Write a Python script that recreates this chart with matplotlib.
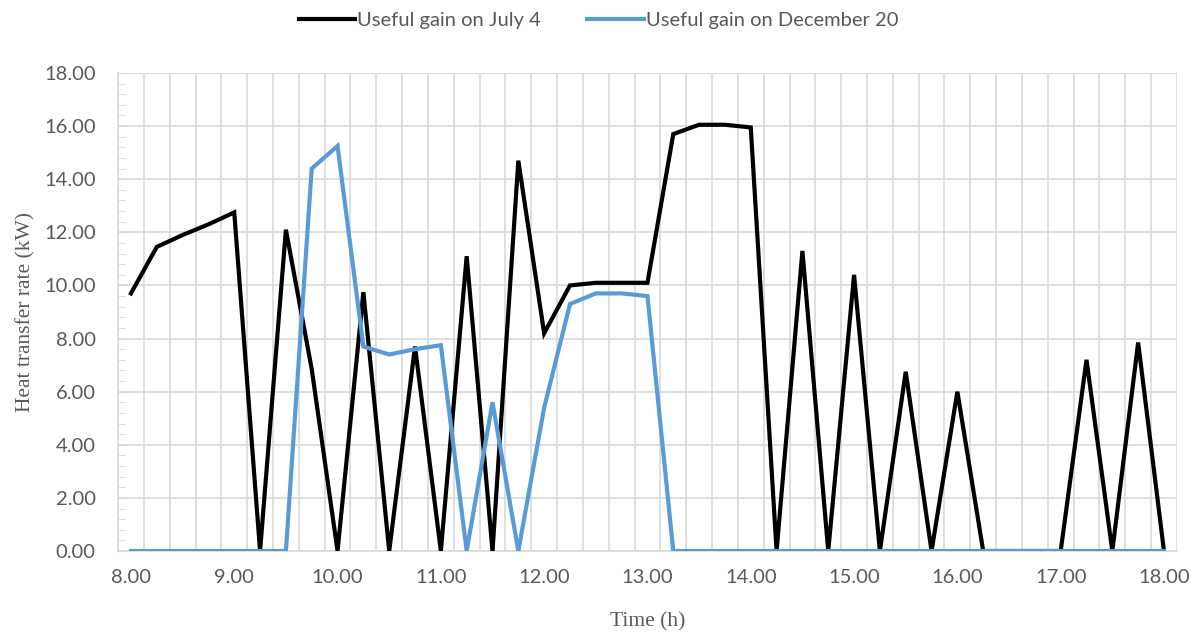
import numpy as np
import matplotlib
matplotlib.use("Agg")
import matplotlib.pyplot as plt
from matplotlib.ticker import MultipleLocator, FixedLocator

# time of day, every quarter hour from 8.00 to 18.00
hours = [8.00, 8.25, 8.50, 8.75, 9.00, 9.25, 9.50, 9.75, 10.00, 10.25,
         10.50, 10.75, 11.00, 11.25, 11.50, 11.75, 12.00, 12.25, 12.50, 12.75,
         13.00, 13.25, 13.50, 13.75, 14.00, 14.25, 14.50, 14.75, 15.00, 15.25,
         15.50, 15.75, 16.00, 16.25, 16.50, 16.75, 17.00, 17.25, 17.50, 17.75,
         18.00]

july_4 = [9.70, 11.45, 11.90, 12.30, 12.75, 0.00, 12.10, 6.85, 0.00, 9.75,
          0.00, 7.70, 0.00, 11.10, 0.00, 14.70, 8.20, 10.00, 10.10, 10.10,
          10.10, 15.70, 16.05, 16.05, 15.95, 0.00, 11.30, 0.00, 10.40, 0.00,
          6.75, 0.00, 6.00, 0.00, 0.00, 0.00, 0.00, 7.20, 0.00, 7.85,
          0.00]

december_20 = [0.00, 0.00, 0.00, 0.00, 0.00, 0.00, 0.00, 14.40, 15.25, 7.70,
               7.40, 7.60, 7.75, 0.00, 5.60, 0.00, 5.40, 9.30, 9.70, 9.70,
               9.60, 0.00, 0.00, 0.00, 0.00, 0.00, 0.00, 0.00, 0.00, 0.00,
               0.00, 0.00, 0.00, 0.00, 0.00, 0.00, 0.00, 0.00, 0.00, 0.00,
               0.00]

x_labels = ["8.00", "9.00", "10.00", "11.00", "12.00", "13.00",
            "14.00", "15.00", "16.00", "17.00", "18.00"]

grid_col = "#d9d9d9"
tick_col = "#595959"

fig = plt.figure(figsize=(11.97, 6.33), dpi=100)
ax = fig.add_axes([0.0986, 0.1295, 0.8846, 0.7552])

ax.plot(hours, july_4, color="black", lw=3.0, solid_joinstyle="miter",
        label="Useful gain on July 4", zorder=3)
ax.plot(hours, december_20, color="#5b9bd5", lw=3.0, solid_joinstyle="miter",
        label="Useful gain on December 20", zorder=3)

ax.set_xlim(7.875, 18.125)
ax.set_ylim(0, 18)

# x: labels on whole hours, gridlines between the quarter-hour categories
ax.xaxis.set_major_locator(FixedLocator(np.arange(8, 18.01, 1)))
ax.set_xticklabels(x_labels)
ax.xaxis.set_minor_locator(FixedLocator(np.arange(7.875, 18.2, 0.25)))
ax.tick_params(axis="x", which="both", length=0, pad=13)
ax.grid(True, axis="x", which="minor", color=grid_col, lw=1.2, zorder=0)

# y
ax.yaxis.set_major_locator(MultipleLocator(2))
ax.yaxis.set_minor_locator(MultipleLocator(0.4))
ax.yaxis.set_major_formatter(plt.FuncFormatter(lambda v, p: f"{v:.2f}"))
ax.tick_params(axis="y", which="major", direction="in", length=6,
               color=grid_col, pad=16)
ax.tick_params(axis="y", which="minor", direction="in", length=5, color=grid_col)
ax.grid(True, axis="y", which="major", color=grid_col, lw=1.2, zorder=0)

for lbl in ax.get_xticklabels() + ax.get_yticklabels():
    lbl.set_fontfamily("Lato")
    lbl.set_fontsize(14.5)
    lbl.set_color(tick_col)

for side in ["top", "right"]:
    ax.spines[side].set_visible(False)
ax.spines["left"].set_color(grid_col)
ax.spines["bottom"].set_color(grid_col)
ax.spines["left"].set_linewidth(1.2)
ax.spines["bottom"].set_linewidth(1.2)

ax.set_xlabel("Time (h)", family="Liberation Serif", fontsize=15.5, color=tick_col,
              labelpad=19)
ax.set_ylabel("Heat transfer rate (kW)", family="Liberation Serif", fontsize=15.5,
              color=tick_col, labelpad=6)

leg = fig.legend(loc="upper center", bbox_to_anchor=(0.5, 1.01), ncol=2,
                 frameon=False, handlelength=2.8, handletextpad=0.1,
                 columnspacing=2.3, prop={"family": "Lato", "size": 14.5})
for t in leg.get_texts():
    t.set_color(tick_col)

fig.savefig("out.png", dpi=100)
